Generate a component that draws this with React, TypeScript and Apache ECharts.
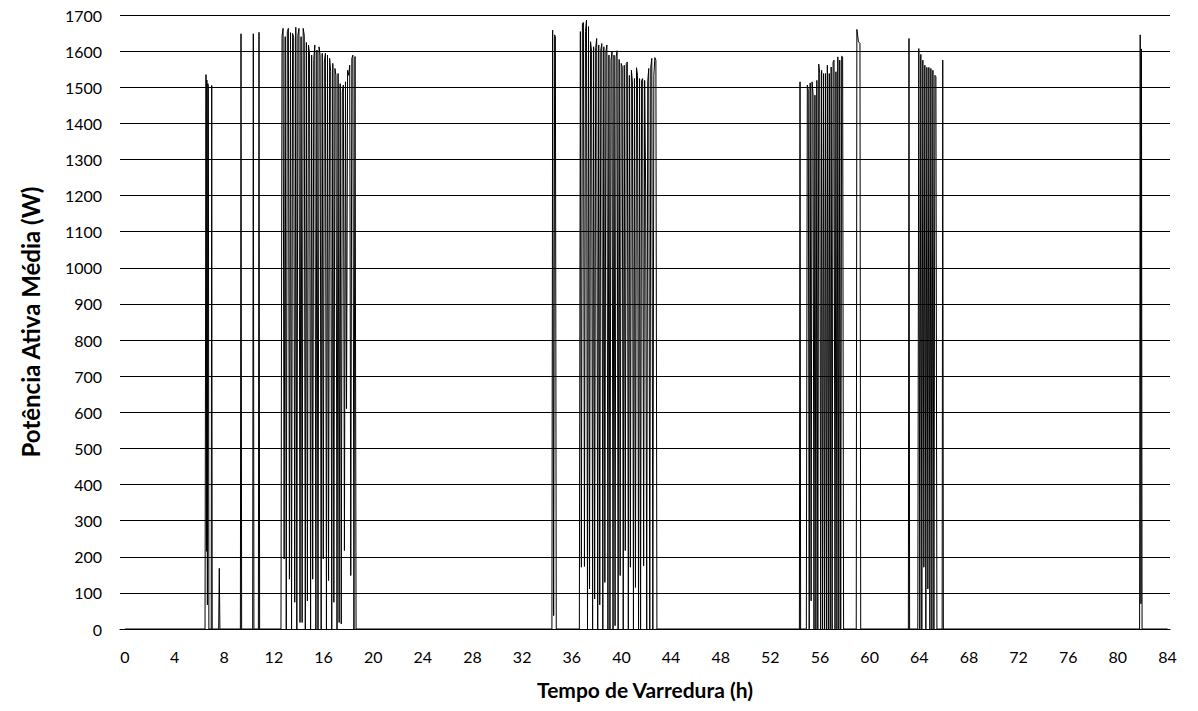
import React, { useEffect, useRef } from "react";
import * as echarts from "echarts";

// ---- axis ticks ----
const xTickValues = [0, 4, 8, 12, 16, 20, 24, 28, 32, 36, 40, 44, 48, 52, 56, 60, 64, 68, 72, 76, 80, 84];

// ---- isolated spikes: time (h) and power (W) ----
const c1Times = [6.45, 6.53, 6.57, 6.6, 6.64, 6.68, 6.72, 6.76, 6.95, 6.99, 7.03, 7.55, 7.6, 7.65];
const c1Values = [0, 1535, 215, 1520, 67, 1510, 1500, 0, 0, 1505, 0, 0, 168, 0];

const c2Times = [9.3, 9.35, 9.4, 10.29, 10.34, 10.39, 10.75, 10.8, 10.85];
const c2Values = [0, 1648, 0, 0, 1648, 0, 0, 1652, 0];

const c4Times = [34.4, 34.46, 34.54, 34.62, 34.68, 34.75];
const c4Values = [0, 1658, 37, 1645, 1640, 0];

const c6aTimes = [54.34, 54.39, 54.44];
const c6aValues = [0, 1515, 0];

const c6bTimes = [58.92, 58.97, 59.1, 59.22, 59.28];
const c6bValues = [0, 1660, 1626, 1621, 0];

const c7aTimes = [63.12, 63.17, 63.22];
const c7aValues = [0, 1635, 0];

const c7cTimes = [65.84, 65.89, 65.94];
const c7cValues = [0, 1575, 0];

const c8Times = [81.75, 81.8, 81.86, 81.9, 81.95];
const c8Values = [0, 1645, 70, 1606, 0];

// ---- dense blocks: evenly sampled between start and end (h) ----
const c3Start = 12.57;
const c3End = 18.62;
const c3Values = [
  0, 1642, 1663, 194, 1640, 0, 1654, 1663, 138, 1651, 0, 1649, 1638, 74, 1666, 0,
  1644, 1663, 18, 1640, 18, 1663, 1644, 0, 1624, 78, 1617, 1594, 0, 1589, 138,
  1577, 1617, 0, 1603, 0, 1612, 1589, 0, 1594, 194, 1570, 1594, 0, 1589, 134,
  1580, 1543, 0, 1566, 74, 1552, 1533, 0, 1538, 18, 1510, 14, 1487, 1506, 217,
  1515, 610, 1547, 1533, 1561, 148, 1580, 1589, 0, 1585, 0,
];

const c5Start = 36.61;
const c5End = 42.86;
const c5Values = [
  0, 1654, 171, 1677, 1679, 173, 1654, 1686, 0, 1668, 111, 1626, 1598, 0, 1612, 83,
  1610, 1635, 0, 1617, 67, 1603, 1621, 0, 1612, 129, 1598, 1617, 0, 1589, 0,
  1575, 1598, 0, 1589, 9, 1584, 1601, 0, 1577, 148, 1566, 1556, 0, 1561, 217,
  1566, 1570, 0, 1533, 171, 1547, 1515, 0, 1524, 115, 1554, 1533, 0, 1524, 0,
  1519, 1524, 175, 1519, 1210, 0, 1515, 1552, 0, 1556, 1580, 0, 1533, 1582, 1575, 0,
];

const c6Start = 54.9;
const c6End = 57.9;
const c6Values = [
  0, 1506, 1492, 0, 1512, 78, 1515, 1482, 0, 1478, 0, 1519, 0, 1564, 1538, 0,
  1547, 0, 1538, 0, 1538, 0, 1561, 0, 1538, 0, 1556, 0, 1570, 1575, 0, 1543, 0,
  1584, 0, 1575, 0, 1586, 1584, 0,
];

const c7Start = 63.88;
const c7End = 65.42;
const c7Values = [0, 1607, 0, 1591, 0, 1575, 171, 1561, 0, 1555, 111, 1555, 0, 1552, 0, 1547, 0, 1533, 1529, 0];

const FONT = "Lato, 'Open Sans', sans-serif";

function pairs(times: number[], values: number[]): number[][] {
  return times.map((t, i) => [t, values[i]]);
}

function sampled(start: number, end: number, values: number[]): number[][] {
  const step = (end - start) / (values.length - 1);
  return values.map((v, i) => [start + i * step, v]);
}

function buildSeries(): number[][] {
  const pts: number[][] = [
    [0, 0],
    ...pairs(c1Times, c1Values),
    ...pairs(c2Times, c2Values),
    ...sampled(c3Start, c3End, c3Values),
    ...pairs(c4Times, c4Values),
    ...sampled(c5Start, c5End, c5Values),
    ...pairs(c6aTimes, c6aValues),
    ...sampled(c6Start, c6End, c6Values),
    ...pairs(c6bTimes, c6bValues),
    ...pairs(c7aTimes, c7aValues),
    ...sampled(c7Start, c7End, c7Values),
    ...pairs(c7cTimes, c7cValues),
    ...pairs(c8Times, c8Values),
    [84, 0],
  ];
  pts.sort((a, b) => a[0] - b[0]);
  return pts;
}

export default function App() {
  const ref = useRef<HTMLDivElement>(null);

  useEffect(() => {
    if (!ref.current) return;
    const chart = echarts.init(ref.current, null, { renderer: "svg" });
    chart.setOption({
      animation: false,
      backgroundColor: "#ffffff",
      grid: {
        left: 120,
        right: 28,
        top: 15,
        bottom: 82,
        containLabel: false,
        outerBoundsMode: "none",
      },
      xAxis: {
        type: "value",
        min: -0.4,
        max: 84.2,
        name: "Tempo de Varredura (h)",
        nameLocation: "middle",
        nameGap: 50,
        nameTextStyle: { fontFamily: FONT, fontWeight: "bold", fontSize: 21, color: "#000" },
        axisLine: { show: true, onZero: false, lineStyle: { color: "#000", width: 1 } },
        axisTick: { show: false },
        splitLine: { show: false },
        axisLabel: {
          customValues: xTickValues,
          fontFamily: FONT,
          fontSize: 16,
          color: "#000",
          margin: 19,
        },
      },
      yAxis: {
        type: "value",
        min: 0,
        max: 1700,
        interval: 100,
        name: "Potência Ativa Média (W)",
        nameLocation: "middle",
        nameGap: 78,
        nameTextStyle: { fontFamily: FONT, fontWeight: "bold", fontSize: 24, color: "#000" },
        axisLine: { show: false },
        axisTick: { show: true, length: 5, lineStyle: { color: "#000", width: 1 } },
        splitLine: { show: true, lineStyle: { color: "#000", width: 1 } },
        axisLabel: {
          fontFamily: FONT,
          fontSize: 16,
          color: "#000",
          margin: 18,
          formatter: (v: number) => String(v),
        },
      },
      series: [
        {
          type: "line",
          data: buildSeries(),
          showSymbol: false,
          symbol: "none",
          lineStyle: { color: "#000", width: 1 },
          emphasis: { disabled: true },
        },
      ],
    });
    return () => chart.dispose();
  }, []);

  return (
    <div
      ref={ref}
      style={{ position: "fixed", left: 0, top: 0, width: 1198, height: 711, background: "#fff" }}
    />
  );
}
